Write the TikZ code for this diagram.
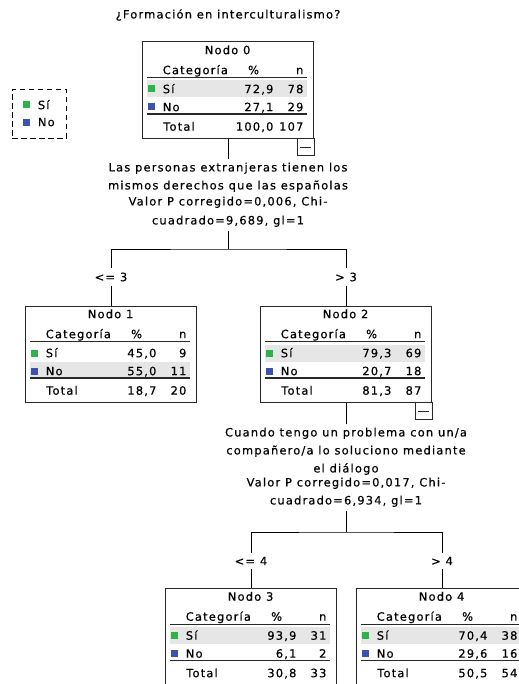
\documentclass[tikz,border=0pt]{standalone}
\usepackage{fontspec}
\newfontfamily\dtfont{DejaVu Sans}[LetterSpace=10,FakeBold=0.4]
\definecolor{sigreen}{RGB}{46,178,74}
\definecolor{noblue}{RGB}{61,82,176}
\definecolor{rowgray}{RGB}{230,230,230}
\definecolor{boxline}{RGB}{40,40,40}
\tikzset{
  every node/.style={font=\dtfont\fontsize{11.5bp}{18bp}\selectfont, inner sep=0pt},
  dtbox/.style={draw=boxline, line width=0.8bp, minimum width=171bp, minimum height=96.5bp, anchor=north},
  tl/.style={anchor=base west},
  tr/.style={anchor=base east},
  tc/.style={anchor=base},
  conn/.style={draw=black, line width=0.8bp},
  question/.style={align=center, inner xsep=0pt, inner ysep=4bp, anchor=north},
  branch/.style={inner xsep=1bp, inner ysep=4bp},
  thinrule/.style={draw=boxline, line width=0.8bp},
  thickrule/.style={draw=boxline, line width=1.4bp},
}
\newcommand\dtrows[9]{%
  \begin{scope}[shift={(#1.north west)}]
    \ifnum#2=1
      \fill[rowgray] (5,39) rectangle (165,56);
    \else
      \fill[rowgray] (5,56.5) rectangle (165,71.5);
    \fi
    \node[tc] at (85.5,12.7) {#3};
    \node[tl] at (20.5,32.7) {Categoría};
    \node[tc] at (111.5,32.7) {\%};
    \node[tr] at (161.5,32.7) {n};
    \draw[thinrule] (5,36) -- (165,36);
    \fill[sigreen] (6,44) rectangle (13,51);
    \node[tl] at (20.5,51.7) {Sí};
    \node[tr] at (131.5,51.7) {#4};
    \node[tr] at (161.5,51.7) {#5};
    \fill[noblue] (6,62) rectangle (13,69);
    \node[tl] at (20.5,69.7) {No};
    \node[tr] at (131.5,69.7) {#6};
    \node[tr] at (161.5,69.7) {#7};
    \draw[thickrule] (5,72.5) -- (165,72.5);
    \node[tl] at (21,89.2) {Total};
    \node[tr] at (131.5,89.2) {#8};
    \node[tr] at (161.5,89.2) {#9};
  \end{scope}}
\newcommand\dtminus[1]{%
  \draw[line width=0.8bp, draw=boxline] ([xshift=-17bp]#1.south east) rectangle ++(17,17);
  \draw[line width=0.8bp, draw=boxline] ([xshift=-14bp,yshift=-8.5bp]#1.south east) -- ++(11,0);}
\begin{document}
\begin{tikzpicture}[x=1bp,y=-1bp]
\useasboundingbox (0,0) rectangle (519,684);
% title
\node (title) at (228,15) {¿Formación en interculturalismo?};
% legend
\node[draw=black, line width=0.8bp, dash pattern=on 5.5bp off 3.5bp, minimum width=54bp, minimum height=49bp, anchor=north west] (legend) at (12,89) {};
\fill[sigreen] ([xshift=10.7bp,yshift=-12.5bp]legend.north west) rectangle ++(7,7);
\node[tl] at ([xshift=25.7bp,yshift=-20.2bp]legend.north west) {Sí};
\fill[noblue] ([xshift=10.7bp,yshift=-29.5bp]legend.north west) rectangle ++(7,7);
\node[tl] at ([xshift=25.7bp,yshift=-37.2bp]legend.north west) {No};
% nodes
\node[dtbox] (n0) at (228,41.5) {};
\dtrows{n0}{1}{Nodo 0}{72,9}{78}{27,1}{29}{100,0}{107}
\dtminus{n0}
\node[question] (q1) at (228,158.5) {Las personas extranjeras tienen los\\mismos derechos que las españolas\\[-2bp]Valor P corregido=0,006, Chi-\\[1bp]cuadrado=9,689, gl=1};
\coordinate (j1) at (228,249);
\node[branch] (l1) at (111,277) {<= 3};
\node[branch] (l2) at (346,277) {> 3};
\node[dtbox] (n1) at (111,305.5) {};
\dtrows{n1}{2}{Nodo 1}{45,0}{9}{55,0}{11}{18,7}{20}
\node[dtbox] (n2) at (346,305.5) {};
\dtrows{n2}{1}{Nodo 2}{79,3}{69}{20,7}{18}{81,3}{87}
\dtminus{n2}
\node[question] (q2) at (346,423.5) {Cuando tengo un problema con un/a\\compañero/a lo soluciono mediante\\el diálogo\\[-4bp]Valor P corregido=0,017, Chi-\\cuadrado=6,934, gl=1};
\coordinate (j2) at (346,532);
\node[branch] (l3) at (251,561) {<= 4};
\node[branch] (l4) at (442,561) {> 4};
\node[dtbox] (n3) at (251,588) {};
\dtrows{n3}{1}{Nodo 3}{93,9}{31}{6,1}{2}{30,8}{33}
\node[dtbox] (n4) at (442,588) {};
\dtrows{n4}{1}{Nodo 4}{70,4}{38}{29,6}{16}{50,5}{54}
% connectors
\draw[conn] (n0.south) -- (q1.north);
\draw[conn] (q1.south) -- (j1);
\draw[conn] (l1.north) |- (j1) -| (l2.north);
\draw[conn] (l1.south) -- (n1.north);
\draw[conn] (l2.south) -- (n2.north);
\draw[conn] (n2.south) -- (q2.north);
\draw[conn] (q2.south) -- (j2);
\draw[conn] (l3.north) |- (j2) -| (l4.north);
\draw[conn] (l3.south) -- (n3.north);
\draw[conn] (l4.south) -- (n4.north);
\end{tikzpicture}
\end{document}
